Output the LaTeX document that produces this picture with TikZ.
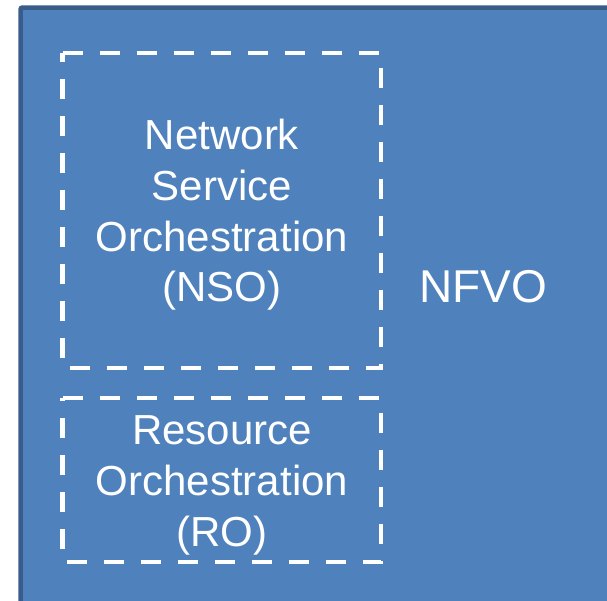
\documentclass[tikz,border=0pt]{standalone}
\usepackage{fontspec}
\setmainfont{Liberation Sans}
\definecolor{panelfill}{HTML}{4F81BD}
\definecolor{panelline}{HTML}{385D8A}
\begin{document}
\begin{tikzpicture}[x=1pt,y=-1pt,
  panel/.style={fill=panelfill,draw=panelline,line width=4.5pt,rounded corners=2pt},
  dashbox/.style={draw=white,line width=4.5pt,dash pattern=on 20pt off 17pt},
  label/.style={text=white,inner sep=0pt,align=center,font=\fontsize{42}{50.7}\selectfont},
  biglabel/.style={text=white,inner sep=0pt,font=\fontsize{46}{55}\selectfont}]
  \useasboundingbox (0,0) rectangle (607,600);
  \clip (0,0) rectangle (607,600);
  % NFVO panel, running past the right and bottom edges
  \draw[panel] (20.5,7.5) rectangle (660,660);
  % dashed group frames
  \draw[dashbox] (62.5,53) -- (381,53) -- (381,368) -- (62.5,368) -- cycle;
  \draw[dashbox] (62.5,398) -- (381,398) -- (381,562) -- (62.5,562) -- cycle;
  % labels
  \node[label] (nso) at (222,215) {Network\\Service\\Orchestration\\(NSO)};
  \node[label] (ro) at (222,485.5) {Resource\\Orchestration\\(RO)};
  \node[biglabel,anchor=base] (nfvo) at (483,302.5) {NFVO};
\end{tikzpicture}
\end{document}
